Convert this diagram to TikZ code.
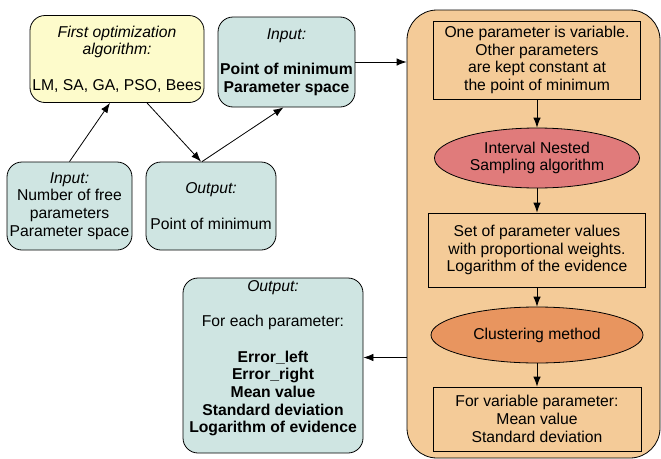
\documentclass[tikz,border=0pt]{standalone}
\usepackage{fontspec}
\setmainfont{Liberation Sans}
\usetikzlibrary{arrows.meta,shapes.geometric}
\definecolor{paleyellow}{HTML}{FDFBCB}
\definecolor{paleteal}{HTML}{CFE5E2}
\definecolor{sand}{HTML}{F4CB98}
\definecolor{rose}{HTML}{E07B7B}
\definecolor{coral}{HTML}{E8955F}
\newcommand {\gap}{\\[17.7pt]}

\begin{document}
\begin{tikzpicture}[x=1pt,y=-1pt,line width=0.8pt,
	txt/.style={align=center,inner sep=0pt,font=\fontsize{15.7}{17.7}\selectfont},
	softbox/.style={txt,draw,rounded corners=15pt,fill=paleteal},
	plainbox/.style={txt,draw,fill=sand},
	oval/.style={txt,draw,ellipse},
	arr/.style={-{Latex[length=10pt,width=7.5pt]}}]
	\useasboundingbox (0,0) rectangle (661,458);
	\node[softbox,fill=paleyellow,minimum width=174pt,minimum height=87pt] (firstopt) at (117,59)
		{\itshape First optimization\\\itshape algorithm:\gap LM, SA, GA, PSO, Bees};
	\node[softbox,minimum width=137pt,minimum height=90pt] (inmin) at (286.5,62)
		{\itshape Input:\gap\bfseries Point of minimum\\\bfseries Parameter space};
	\node[softbox,minimum width=125pt,minimum height=88pt] (infree) at (69.5,206)
		{\itshape Input:\\Number of free\\parameters\\Parameter space};
	\node[softbox,minimum width=130pt,minimum height=88pt] (outmin) at (211,206)
		{\itshape Output:\gap Point of minimum};
	\node[softbox,rounded corners=30pt,fill=sand,minimum width=253pt,minimum height=448pt] (loop) at (533.5,234) {};
	\node[softbox,minimum width=180pt,minimum height=175pt] (outall) at (273,365.5)
		{\itshape Output:\gap For each parameter:\gap\bfseries Error\_left\\\bfseries Error\_right\\\bfseries Mean value\\\bfseries Standard deviation\\\bfseries Logarithm of evidence\\\mbox{}};
	\node[plainbox,minimum width=207pt,minimum height=78pt] (fixpar) at (537,60)
		{One parameter is variable.\\Other parameters\\are kept constant at\\the point of minimum};
	\node[oval,fill=rose,minimum width=205pt,minimum height=60pt] (ins) at (537,158)
		{Interval Nested\\Sampling algorithm};
	\node[plainbox,minimum width=217pt,minimum height=74pt] (weights) at (537,250)
		{Set of parameter values\\with proportional weights.\\Logarithm of the evidence};
	\node[oval,fill=coral,minimum width=212pt,minimum height=56pt] (cluster) at (537,335)
		{Clustering method};
	\node[plainbox,minimum width=208pt,minimum height=64pt] (varpar) at (537,419)
		{For variable parameter:\\Mean value\\Standard deviation};
	\draw[arr] (infree.north) -- ([xshift=-7pt]firstopt.south);
	\draw[arr] ([xshift=30pt]firstopt.south) -- ([xshift=-10pt]outmin.north);
	\draw[arr] ([xshift=-9pt]outmin.north) -- ([xshift=-3pt]inmin.south);
	\draw[arr] (inmin.east) -- (inmin.east -| loop.west);
	\draw[arr] ([yshift=8pt]outall.east -| loop.west) -- ([yshift=8pt]outall.east);
	\draw[arr] (fixpar) -- (ins);
	\draw[arr] (ins) -- (weights);
	\draw[arr] (weights) -- (cluster);
	\draw[arr] (cluster) -- (varpar);
\end{tikzpicture}
\end{document}
